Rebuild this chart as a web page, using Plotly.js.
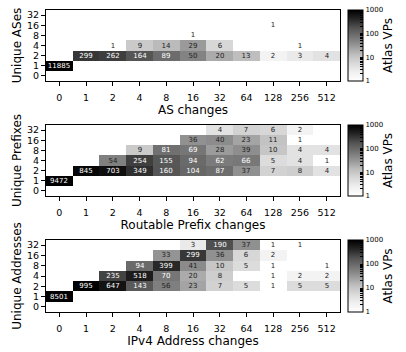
<!DOCTYPE html>
<html>
<head>
<meta charset="utf-8">
<script src="https://cdn.plot.ly/plotly-3.0.1.min.js"></script>
<style>html,body{margin:0;padding:0;background:#fff;}#chart{width:406px;height:352px;}</style>
</head>
<body>
<div id="chart"></div>
<script>
// categories
const changeCats = ['0','1','2','4','8','16','32','64','128','256','512'];
const uniqueCats = ['0','1','2','4','8','16','32'];

// AS panel rows (x = changeCats)
const as_u0  = [null,null,null,null,null,null,null,null,null,null,null];
const as_u1  = [11885,null,null,null,null,null,null,null,null,null,null];
const as_u2  = [null,299,262,164,89,50,20,13,2,3,4];
const as_u4  = [null,null,1,9,14,29,6,null,null,1,null];
const as_u8  = [null,null,null,null,null,1,null,null,null,null,null];
const as_u16 = [null,null,null,null,null,null,null,null,1,null,null];
const as_u32 = [null,null,null,null,null,null,null,null,null,null,null];

// Routable prefix panel rows
const pf_u0  = [null,null,null,null,null,null,null,null,null,null,null];
const pf_u1  = [9472,null,null,null,null,null,null,null,null,null,null];
const pf_u2  = [null,845,703,349,160,104,87,37,7,8,4];
const pf_u4  = [null,null,54,254,155,94,62,66,5,4,1];
const pf_u8  = [null,null,null,9,81,69,28,39,10,4,4];
const pf_u16 = [null,null,null,null,null,36,40,23,11,1,null];
const pf_u32 = [null,null,null,null,null,null,4,7,6,2,null];

// IPv4 address panel rows
const ad_u0  = [null,null,null,null,null,null,null,null,null,null,null];
const ad_u1  = [8501,null,null,null,null,null,null,null,null,null,null];
const ad_u2  = [null,995,647,143,56,23,7,5,1,5,5];
const ad_u4  = [null,null,235,518,70,20,8,null,1,2,2];
const ad_u8  = [null,null,null,94,399,41,10,5,1,null,1];
const ad_u16 = [null,null,null,null,33,299,36,6,2,null,null];
const ad_u32 = [null,null,null,null,null,3,190,37,1,1,null];

const panels = [
  {rows:[as_u0,as_u1,as_u2,as_u4,as_u8,as_u16,as_u32], xt:'AS changes', yt:'Unique ASes'},
  {rows:[pf_u0,pf_u1,pf_u2,pf_u4,pf_u8,pf_u16,pf_u32], xt:'Routable Prefix changes', yt:'Unique Prefixes'},
  {rows:[ad_u0,ad_u1,ad_u2,ad_u4,ad_u8,ad_u16,ad_u32], xt:'IPv4 Address changes', yt:'Unique Addresses'}
];

const greys = [[0,'#ffffff'],[0.125,'#f0f0f0'],[0.25,'#d9d9d9'],[0.375,'#bdbdbd'],[0.5,'#969696'],[0.625,'#737373'],[0.75,'#525252'],[0.875,'#252525'],[1,'#000000']];
const FONT = 'DejaVu Sans, sans-serif';
const WHITE_MIN = 60;

// colorbar ticks (major + minor on log scale)
const cbVals = [], cbText = [];
for (let d = 0; d < 3; d++) {
  for (let m = 1; m < 10; m++) {
    cbVals.push(d + Math.log10(m));
    cbText.push(m === 1 ? String(Math.pow(10, d)) : '');
  }
}
cbVals.push(3); cbText.push('1000');

const yDomains = [[0.7649,1],[0.3841,0.6192],[0,0.2384]];

const data = [];
const layout = {
  width: 406, height: 352,
  margin: {l:46, r:66, t:10, b:40},
  paper_bgcolor: '#fff', plot_bgcolor: '#fff',
  font: {family: FONT, color: '#000', size: 9},
  showlegend: false
};

panels.forEach((p, i) => {
  const sfx = i === 0 ? '' : String(i + 1);
  const mk = (light) => {
    const z = p.rows.map(r => r.map(v => (v === null ? null : ((v >= WHITE_MIN) === light ? Math.log10(v) : null))));
    const t = p.rows.map(r => r.map(v => (v === null ? '' : ((v >= WHITE_MIN) === light ? String(v) : ''))));
    return {
      type: 'heatmap', x: changeCats, y: uniqueCats, z: z, text: t,
      texttemplate: '%{text}', textfont: {family: FONT, size: 7, color: light ? '#ffffff' : '#222222'},
      coloraxis: 'coloraxis' + sfx, xaxis: 'x' + sfx, yaxis: 'y' + sfx,
      hoverinfo: 'skip', xgap: 0, ygap: 0
    };
  };
  data.push(mk(false));
  data.push(mk(true));

  const dom = yDomains[i];
  layout['coloraxis' + sfx] = {
    colorscale: greys, cmin: 0, cmax: 3,
    colorbar: {
      x: 1.027, xanchor: 'left', xref: 'paper',
      y: (dom[0] + dom[1]) / 2, yanchor: 'middle', yref: 'paper',
      len: dom[1] - dom[0], lenmode: 'fraction',
      thickness: 15, thicknessmode: 'pixels',
      outlinewidth: 1, outlinecolor: '#000',
      tickmode: 'array', tickvals: cbVals, ticktext: cbText,
      ticks: 'inside', ticklen: 3, tickcolor: '#000', tickwidth: 1,
      tickfont: {family: FONT, size: 7, color: '#000'},
      title: {text: 'Atlas VPs', side: 'right', font: {family: FONT, size: 12, color: '#000'}},
      xpad: 0, ypad: 0, bgcolor: 'rgba(0,0,0,0)'
    }
  };
  layout['xaxis' + sfx] = {
    domain: [0,1], anchor: 'y' + sfx, type: 'category',
    categoryorder: 'array', categoryarray: changeCats,
    tickmode: 'array', tickvals: changeCats, ticktext: changeCats,
    showline: true, mirror: true, linecolor: '#000', linewidth: 1,
    ticks: 'outside', ticklen: 4, tickcolor: '#000', tickwidth: 1,
    ticklabelstandoff: 4,
    showgrid: false, zeroline: false, fixedrange: true,
    tickfont: {family: FONT, size: 9.5, color: '#000'},
    title: {text: p.xt, font: {family: FONT, size: 12, color: '#000'}, standoff: 3},
    automargin: false
  };
  layout['yaxis' + sfx] = {
    domain: dom, anchor: 'x' + sfx, type: 'category',
    categoryorder: 'array', categoryarray: uniqueCats,
    tickmode: 'array', tickvals: uniqueCats, ticktext: uniqueCats,
    showline: true, mirror: true, linecolor: '#000', linewidth: 1,
    ticks: 'outside', ticklen: 4, tickcolor: '#000', tickwidth: 1,
    showgrid: false, zeroline: false, fixedrange: true,
    tickfont: {family: FONT, size: 9.5, color: '#000'},
    title: {text: p.yt, font: {family: FONT, size: 12, color: '#000'}, standoff: 2},
    automargin: false
  };
});

Plotly.newPlot('chart', data, layout, {staticPlot: true, displayModeBar: false});
</script>
</body>
</html>
